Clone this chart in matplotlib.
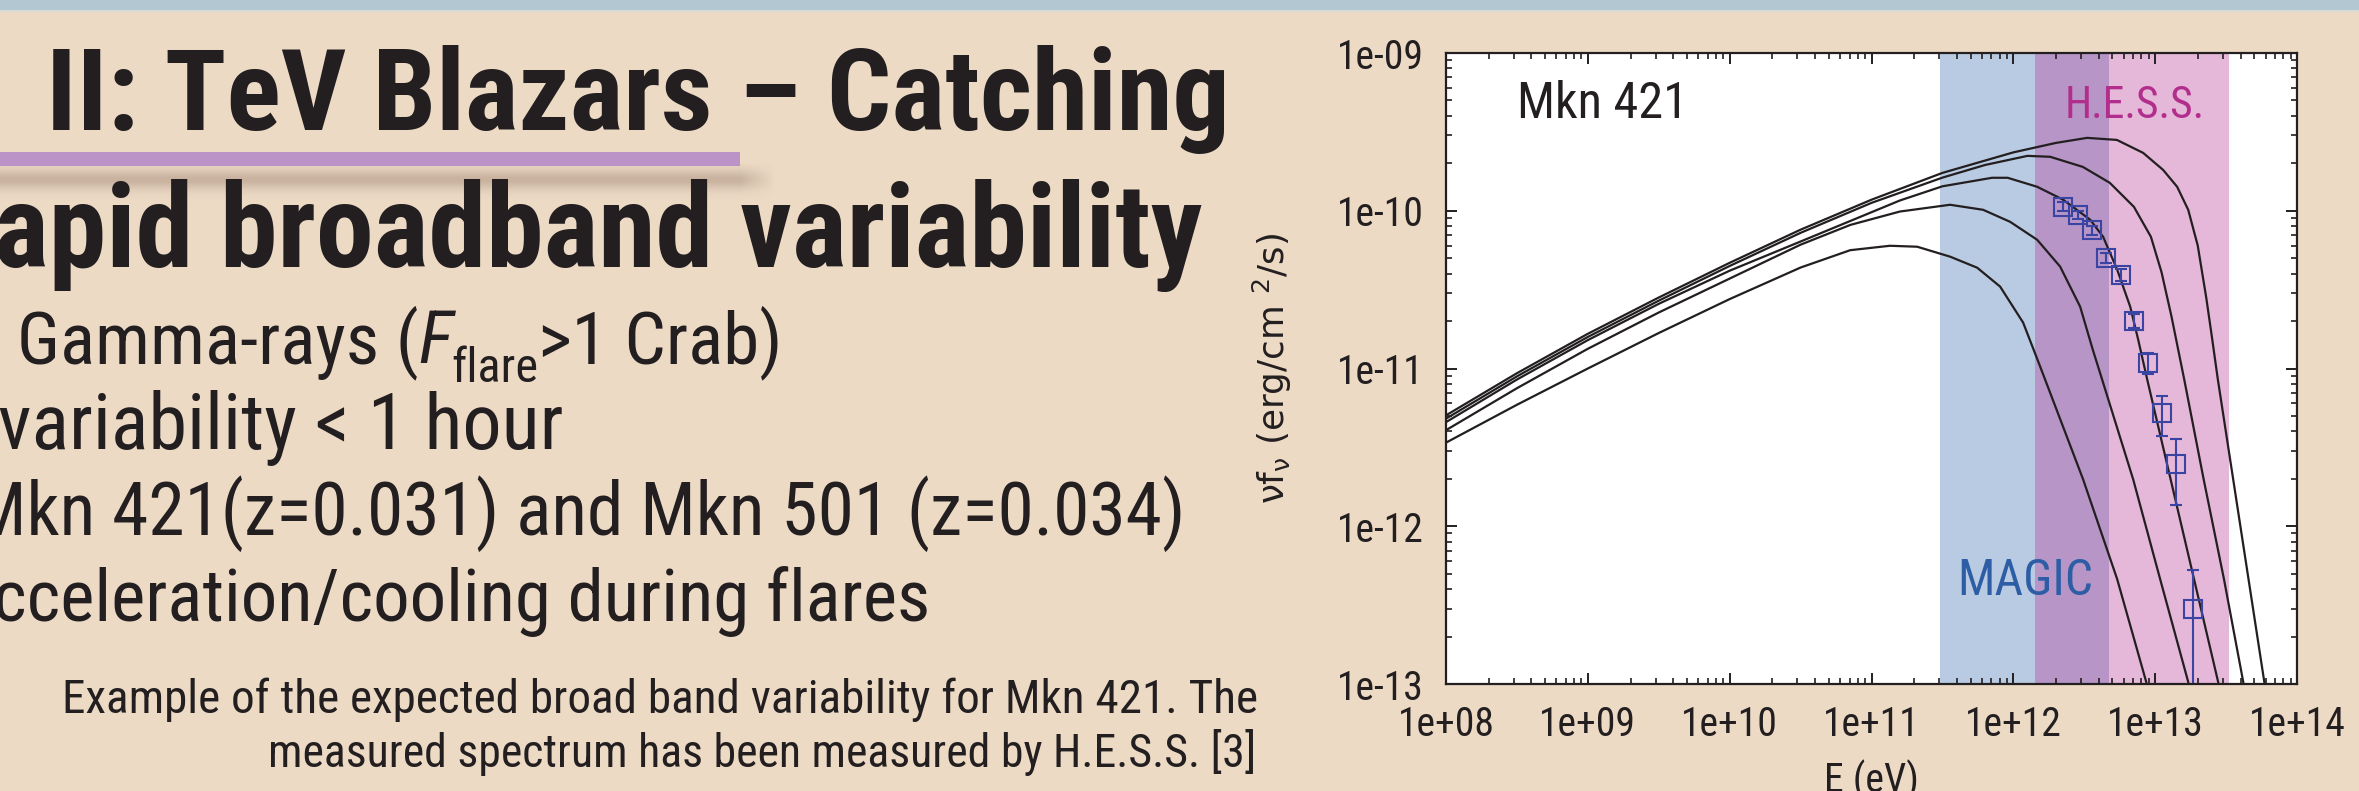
import matplotlib
matplotlib.use('Agg')
import matplotlib.pyplot as plt
from matplotlib import font_manager as fm
from matplotlib.patches import Rectangle
from matplotlib.ticker import LogLocator, FuncFormatter, NullFormatter
import numpy as np

# ---------------- data ----------------
# model curves: log10(E / eV) and log10(nu F_nu / erg cm^-2 s^-1)
c1_logE = [8.0, 8.5, 9.0, 9.5, 10.0, 10.5, 11.0, 11.5, 12.0, 12.3, 12.52, 12.73, 12.915, 13.056, 13.155, 13.233, 13.30, 13.36, 13.40, 13.442, 13.77]
c1_logF = [-11.297, -11.03, -10.78, -10.55, -10.33, -10.12, -9.93, -9.76, -9.63, -9.57, -9.538, -9.551, -9.633, -9.741, -9.848, -9.994, -10.22, -10.55, -10.80, -11.07, -12.99]

c2_logE = [8.0, 8.5, 9.0, 9.5, 10.0, 10.5, 11.0, 11.5, 11.8, 12.1, 12.26, 12.49, 12.68, 12.85, 12.97, 13.045, 13.115, 13.205, 13.342, 13.485, 13.621]
c2_logF = [-11.318, -11.05, -10.80, -10.57, -10.35, -10.14, -9.95, -9.79, -9.71, -9.652, -9.658, -9.722, -9.823, -9.975, -10.165, -10.39, -10.67, -11.07, -11.703, -12.335, -12.987]

c3_logE = [8.0, 8.5, 9.0, 9.5, 10.0, 10.5, 10.85, 11.2, 11.5, 11.85, 11.96, 12.168, 12.351, 12.542, 12.633, 12.732, 12.824, 12.88, 12.944, 13.444]
c3_logF = [-11.34, -11.07, -10.82, -10.59, -10.38, -10.195, -10.065, -9.935, -9.845, -9.791, -9.791, -9.848, -9.930, -10.057, -10.165, -10.373, -10.608, -10.816, -11.07, -12.987]

c4_logE = [8.0, 8.5, 9.0, 9.5, 10.0, 10.5, 10.85, 11.2, 11.554, 11.787, 11.977, 12.168, 12.33, 12.471, 12.56, 12.626, 12.845, 13.035, 13.233]
c4_logF = [-11.391, -11.125, -10.875, -10.645, -10.43, -10.215, -10.09, -10.005, -9.962, -9.994, -10.07, -10.184, -10.354, -10.608, -10.88, -11.07, -11.703, -12.335, -12.987]

c5_logE = [8.0, 8.5, 9.0, 9.5, 10.0, 10.5, 10.85, 11.13, 11.322, 11.554, 11.745, 11.907, 12.069, 12.17, 12.224, 12.492, 12.732, 12.937]
c5_logF = [-11.47, -11.23, -11.0, -10.775, -10.56, -10.36, -10.25, -10.222, -10.228, -10.291, -10.361, -10.481, -10.709, -10.943, -11.07, -11.703, -12.335, -12.987]

curves_logE = [c1_logE, c2_logE, c3_logE, c4_logE, c5_logE]
curves_logF = [c1_logF, c2_logF, c3_logF, c4_logF, c5_logF]

# H.E.S.S. measured spectrum
hess_E = [2.24e12, 2.86e12, 3.6e12, 4.5e12, 5.7e12, 7.1e12, 8.9e12, 1.12e13, 1.41e13, 1.85e13]
hess_F = [1.06e-10, 9.4e-11, 7.5e-11, 5.0e-11, 3.9e-11, 2.0e-11, 1.09e-11, 5.2e-12, 2.47e-12, 2.99e-13]
hess_F_low = [1.0e-10, 8.9e-11, 7.0e-11, 4.65e-11, 3.6e-11, 1.8e-11, 9.2e-12, 3.72e-12, 1.36e-12, 5.0e-14]
hess_F_high = [1.13e-10, 1.0e-10, 8.0e-11, 5.4e-11, 4.25e-11, 2.2e-11, 1.26e-11, 6.65e-12, 3.56e-12, 5.27e-13]

# instrument energy ranges (eV)
magic_range = [3.05e11, 4.74e12]
hess_range = [1.43e12, 3.33e13]

x_ticks = [1e8, 1e9, 1e10, 1e11, 1e12, 1e13, 1e14]
y_ticks = [1e-13, 1e-12, 1e-11, 1e-10, 1e-9]

title_lines = ["II: TeV Blazars \u2013 Catching", "apid broadband variability"]
gamma_parts = ["Gamma-rays (", "F", "flare", ">1 Crab)"]
bullet_lines = ["variability < 1 hour",
                "Mkn 421(z=0.031) and Mkn 501 (z=0.034)",
                "cceleration/cooling during flares"]
caption_lines = ["Example of the expected broad band variability for Mkn 421. The",
                 "measured spectrum has been measured by H.E.S.S. [3]"]

# ---------------- fonts ----------------
ents = fm.fontManager.ttflist
names = {f.name for f in ents}
NARROW, STRETCH = None, 'normal'
for cand in ['Liberation Sans Narrow', 'Roboto Condensed', 'Open Sans Condensed',
             'Noto Sans Condensed', 'DejaVu Sans Condensed', 'Lato Condensed']:
    if cand in names:
        NARROW = cand
        break
if NARROW is None:
    dv = [f for f in ents if f.name == 'DejaVu Sans' and 'condensed' in str(f.stretch)]
    if dv:
        NARROW, STRETCH = 'DejaVu Sans', 'condensed'
    else:
        cond = sorted({f.name for f in ents if 'condensed' in str(f.stretch).lower()
                       or 'Condensed' in f.name or 'Narrow' in f.name})
        if cond:
            NARROW = cond[0]
        elif 'Roboto' in names:
            NARROW = 'Roboto'
        else:
            NARROW = 'DejaVu Sans'
FONT = dict(family=NARROW, stretch=STRETCH)

# ---------------- style ----------------
W, H, DPI = 2359, 791, 100
BG = '#ECDAC5'
TXT = '#231F20'

fig = plt.figure(figsize=(W / DPI, H / DPI), dpi=DPI)
fig.patch.set_facecolor(BG)
renderer = fig.canvas.get_renderer()


def fx(px):
    return px / W


def fy(py):
    return 1 - py / H


def bbox(t):
    return t.get_window_extent(renderer=renderer)


def fit_width(t, target):
    t.set_fontsize(t.get_fontsize() * target / bbox(t).width)
    return t.get_fontsize()


def fit_height(t, target):
    t.set_fontsize(t.get_fontsize() * target / bbox(t).height)
    return t.get_fontsize()


# top strip
fig.add_artist(Rectangle((0, fy(10.5)), 1, 10.5 / H, transform=fig.transFigure,
                         facecolor='#B3C7D3', edgecolor='none', zorder=0))
fig.add_artist(Rectangle((0, fy(12)), 1, 1.5 / H, transform=fig.transFigure,
                         facecolor='#D9DCD6', edgecolor='none', zorder=0))

# shadow under the purple bar
ax_sh = fig.add_axes([0, fy(206), fx(800), 42 / H])
ax_sh.set_axis_off()
hh, ww = 42, 800
yy = np.arange(hh)[:, None]
xx = np.arange(ww)[None, :]
a_y = np.exp(-((yy - 15) / 10.0) ** 2)
a_x = np.clip((775 - xx) / 35.0, 0, 1)
img = np.zeros((hh, ww, 4))
img[..., 0] = 0.62
img[..., 1] = 0.52
img[..., 2] = 0.45
img[..., 3] = 0.45 * a_y * a_x
ax_sh.imshow(img, aspect='auto', extent=(0, ww, hh, 0), interpolation='bilinear')
ax_sh.set_xlim(0, ww)
ax_sh.set_ylim(hh, 0)

fig.add_artist(Rectangle((0, fy(166)), fx(740), 14 / H, transform=fig.transFigure,
                         facecolor='#BC93C6', edgecolor='none', zorder=2))

# title
t1 = fig.text(fx(46), fy(130), title_lines[0], fontsize=76, fontweight='bold',
              color=TXT, va='baseline', ha='left', **FONT)
fit_width(t1, 1183)
t2 = fig.text(fx(1203), fy(267), title_lines[1], fontsize=76, fontweight='bold',
              color=TXT, va='baseline', ha='right', **FONT)
fit_width(t2, 1207)

# bullets (right edge, baseline, visible width incl. cut-off part)
for txt, xr, yb, wd in [(bullet_lines[0], 564, 449, 566),
                        (bullet_lines[1], 1185, 535, 1216),
                        (bullet_lines[2], 930, 621, 938)]:
    tt = fig.text(fx(xr), fy(yb), txt, fontsize=50, color=TXT,
                  va='baseline', ha='right', **FONT)
    fit_width(tt, wd)


# gamma-ray line built from pieces (italic F with subscript)
def gamma_line(size):
    out = []
    xcur = 17
    g0 = fig.text(fx(xcur), fy(363), gamma_parts[0], fontsize=size, color=TXT,
                  va='baseline', ha='left', **FONT)
    out.append(g0)
    xcur = bbox(g0).x1
    g1 = fig.text(fx(xcur), fy(363), gamma_parts[1], fontsize=size, color=TXT,
                  style='italic', va='baseline', ha='left', **FONT)
    out.append(g1)
    xcur = bbox(g1).x1 - 0.03 * size
    g2 = fig.text(fx(xcur), fy(363 + 0.36 * size), gamma_parts[2], fontsize=size * 0.66,
                  color=TXT, va='baseline', ha='left', **FONT)
    out.append(g2)
    xcur = bbox(g2).x1
    g3 = fig.text(fx(xcur), fy(363), gamma_parts[3], fontsize=size, color=TXT,
                  va='baseline', ha='left', **FONT)
    out.append(g3)
    return out, bbox(g3).x1 - bbox(g0).x0


parts, wtot = gamma_line(50)
for p in parts:
    p.remove()
gamma_line(50 * 766 / wtot)

# caption
tc = fig.text(fx(1258), fy(713), caption_lines[0], fontsize=30, color=TXT,
              va='baseline', ha='right', **FONT)
fit_width(tc, 1197)
tc2 = fig.text(fx(1256), fy(767), caption_lines[1], fontsize=30, color=TXT,
               va='baseline', ha='right', **FONT)
fit_width(tc2, 988)

# ---------------- chart ----------------
AX_L, AX_R, AX_T, AX_B = 1446, 2297, 53, 684
ax = fig.add_axes([fx(AX_L), fy(AX_B), (AX_R - AX_L) / W, (AX_B - AX_T) / H])
ax.set_facecolor('white')
ax.set_xscale('log')
ax.set_yscale('log')
ax.set_xlim(x_ticks[0], x_ticks[-1])
ax.set_ylim(y_ticks[0], y_ticks[-1])

ax.axvspan(magic_range[0], hess_range[0], color='#B9CBE3', lw=0, zorder=0)
ax.axvspan(hess_range[0], magic_range[1], color='#B795C7', lw=0, zorder=0)
ax.axvspan(magic_range[1], hess_range[1], color='#E5B8D9', lw=0, zorder=0)

for le, lf in zip(curves_logE, curves_logF):
    ax.plot(10 ** np.array(le), 10 ** np.array(lf), color=TXT, lw=1.6, zorder=3,
            solid_joinstyle='round')

hE = np.array(hess_E)
hF = np.array(hess_F)
yerr = [hF - np.array(hess_F_low), np.array(hess_F_high) - hF]
ax.errorbar(hE, hF, yerr=yerr, fmt='s', mfc='none', mec='#3A44A2', ecolor='#3A44A2',
            ms=12.5, mew=1.5, elinewidth=1.5, capsize=4, capthick=1.5, zorder=4)

ax.set_xticks(x_ticks)
ax.set_yticks(y_ticks)
ax.xaxis.set_minor_locator(LogLocator(base=10, subs=np.arange(2, 10), numticks=20))
ax.yaxis.set_minor_locator(LogLocator(base=10, subs=np.arange(2, 10), numticks=20))
fmt = FuncFormatter(lambda v, _: f"{v:.0e}")
ax.xaxis.set_major_formatter(fmt)
ax.yaxis.set_major_formatter(fmt)
ax.xaxis.set_minor_formatter(NullFormatter())
ax.yaxis.set_minor_formatter(NullFormatter())
ax.tick_params(which='both', direction='in', top=True, right=True, color=TXT)
ax.tick_params(which='major', length=8, width=1.4)
ax.tick_params(which='minor', length=4.5, width=1.2)
ax.tick_params(axis='x', which='major', pad=15)
ax.tick_params(axis='y', which='major', pad=16)

tmp = fig.text(0, 0, '1e-09', fontsize=27, **FONT)
tick_fs = 27 * 87 / bbox(tmp).width
tmp.remove()
for lab in ax.get_xticklabels() + ax.get_yticklabels():
    lab.set_family(NARROW)
    lab.set_stretch(STRETCH)
    lab.set_fontsize(tick_fs)
    lab.set_color(TXT)
for s in ax.spines.values():
    s.set_linewidth(1.6)
    s.set_color(TXT)
    s.set_zorder(5)

ax.set_xlabel('E (eV)', fontsize=29, color=TXT, **FONT)
fit_width(ax.xaxis.label, 95)
ax.xaxis.set_label_coords(0.5, (AX_B - 760) / (AX_B - AX_T))
ax.set_ylabel(r'$\mathrm{\nu}$f$_\mathrm{\nu}$ (erg/cm $^2$/s)', family='DejaVu Sans',
              fontsize=22, color=TXT, math_fontfamily='dejavusans')
ax.yaxis.set_label_coords((1272 - AX_L) / (AX_R - AX_L), 0.5)
ax.yaxis.label.set_va('center')
fit_height(ax.yaxis.label, 271)


def axfrac(px, py):
    return (px - AX_L) / (AX_R - AX_L), (AX_B - py) / (AX_B - AX_T)


tm = ax.text(*axfrac(1517, 118), 'Mkn 421', transform=ax.transAxes,
             fontsize=36, color=TXT, va='baseline', ha='left', zorder=6, **FONT)
fit_width(tm, 171)
th = ax.text(*axfrac(2065, 118), 'H.E.S.S.', transform=ax.transAxes,
             fontsize=36, color='#B22E8C', va='baseline', ha='left', zorder=6, **FONT)
fit_width(th, 140)
tg = ax.text(*axfrac(1957, 595), 'MAGIC', transform=ax.transAxes,
             fontsize=36, color='#2D5EA5', va='baseline', ha='left', zorder=6, **FONT)
fit_width(tg, 136)

fig.savefig('out.png', dpi=DPI, facecolor=BG)
